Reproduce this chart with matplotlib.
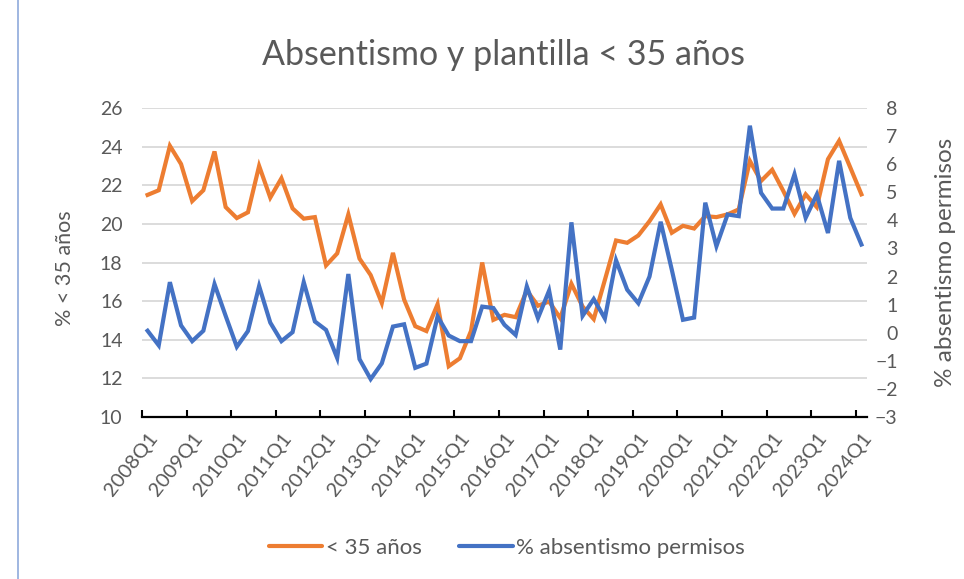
import matplotlib.pyplot as plt
from matplotlib.lines import Line2D

# quarters 2008Q1 .. 2024Q1
quarters = [f"{y}Q{q}" for y in range(2008, 2025) for q in range(1, 5)][:65]

# % of staff younger than 35 (left axis)
menores_35 = [
    21.5, 21.74, 24.04, 23.1, 21.18, 21.74, 23.75, 20.87, 20.3, 20.6,
    23.0, 21.36, 22.36, 20.8, 20.27, 20.35, 17.85, 18.47, 20.49, 18.2,
    17.35, 15.9, 18.5, 16.08, 14.7, 14.45, 15.84, 12.63, 13.04, 14.46,
    18.0, 15.03, 15.29, 15.17, 16.55, 15.76, 15.98, 15.12, 16.9, 15.72,
    15.07, 17.1, 19.14, 19.02, 19.4, 20.14, 21.01, 19.54, 19.9, 19.76,
    20.4, 20.35, 20.49, 20.75, 23.26, 22.22, 22.8, 21.7, 20.52, 21.53,
    20.87, 23.35, 24.3, 22.92, 21.53,
]

# % absenteeism due to leave (right axis)
absentismo = [
    0.07, -0.45, 1.8, 0.26, -0.3, 0.07, 1.73, 0.6, -0.5, 0.06,
    1.66, 0.36, -0.3, 0.02, 1.8, 0.4, 0.1, -0.9, 2.09, -0.94,
    -1.65, -1.09, 0.22, 0.3, -1.25, -1.1, 0.58, -0.1, -0.3, -0.3,
    0.93, 0.88, 0.28, -0.08, 1.65, 0.52, 1.5, -0.6, 3.93, 0.6,
    1.2, 0.51, 2.58, 1.53, 1.05, 2.0, 3.95, 2.24, 0.46, 0.54,
    4.63, 3.08, 4.21, 4.15, 7.37, 4.98, 4.42, 4.42, 5.64, 4.09,
    4.92, 3.55, 6.12, 4.09, 3.14,
]

ORANGE = "#ED7D31"
BLUE = "#4472C4"
GREY = "#595959"
FONT = "Lato"

W, H = 964, 579
fig = plt.figure(figsize=(W / 100, H / 100), dpi=100)
plt.rcParams["font.family"] = [FONT, "DejaVu Sans"]

# left edge of the chart frame
fig.add_artist(Line2D([18 / W, 18 / W], [0, 1], transform=fig.transFigure,
                      color="#8FAADC", lw=1.2))

left, right, top, bottom = 142, 867, 108, 417
ax = fig.add_axes([left / W, 1 - bottom / H, (right - left) / W, (bottom - top) / H])
ax2 = ax.twinx()

x = list(range(len(quarters)))
ax.plot(x, menores_35, color=ORANGE, lw=3.0, solid_joinstyle="miter")
ax2.plot(x, absentismo, color=BLUE, lw=3.0, solid_joinstyle="miter")

ax.set_xlim(-0.5, len(quarters) - 0.5)
ax.set_ylim(10, 26)
ax.set_yticks(range(10, 27, 2))
ax2.set_ylim(-3, 8)
ax2.set_yticks(range(-3, 9))

ax.grid(axis="y", color="#D9D9D9", lw=1.3)
ax.set_axisbelow(True)

for a in (ax, ax2):
    for s in ("top", "left", "right"):
        a.spines[s].set_visible(False)
ax2.spines["bottom"].set_visible(False)
ax.spines["bottom"].set_color("black")
ax.spines["bottom"].set_linewidth(1.6)

# category labels on Q1, tick marks between categories
q1 = [i for i, q in enumerate(quarters) if q.endswith("Q1")]
ax.set_xticks(q1)
ax.set_xticklabels([quarters[i] for i in q1], rotation=52, ha="right",
                   rotation_mode="anchor", fontsize=14.5, color=GREY)
ax.set_xticks([i - 0.5 for i in q1], minor=True)
ax.tick_params(axis="x", which="major", length=0, pad=9)
ax.tick_params(axis="x", which="minor", direction="in", length=5, width=1.5, color="black")

ax.tick_params(axis="y", length=0, pad=14, labelsize=14, labelcolor=GREY)
ax2.tick_params(axis="y", length=0, pad=22, labelsize=14, labelcolor=GREY)
for lab in ax2.get_yticklabels():
    lab.set_horizontalalignment("right")

ax.set_ylabel("% < 35 años", fontsize=15.5, color=GREY)
ax.yaxis.set_label_coords((75 - left) / (right - left), 0.48)
ax2.set_ylabel("% absentismo permisos", fontsize=17.5, color=GREY, rotation=90)
ax2.yaxis.set_label_coords((935 - left) / (right - left), 0.5)

fig.text(503 / W, 1 - 55 / H, "Absentismo y plantilla < 35 años", ha="center",
         va="center", fontsize=24.5, color=GREY)

handles = [Line2D([], [], color=ORANGE, lw=3.0, solid_capstyle="round"),
           Line2D([], [], color=BLUE, lw=3.0, solid_capstyle="round")]
fig.legend(handles, ["< 35 años", "% absentismo permisos"], loc="center",
           bbox_to_anchor=(507 / W, 1 - 548 / H), ncol=2, frameon=False,
           fontsize=16, labelcolor=GREY, handlelength=2.4, handletextpad=0.15,
           columnspacing=1.7)

fig.savefig("out.png", dpi=100)
